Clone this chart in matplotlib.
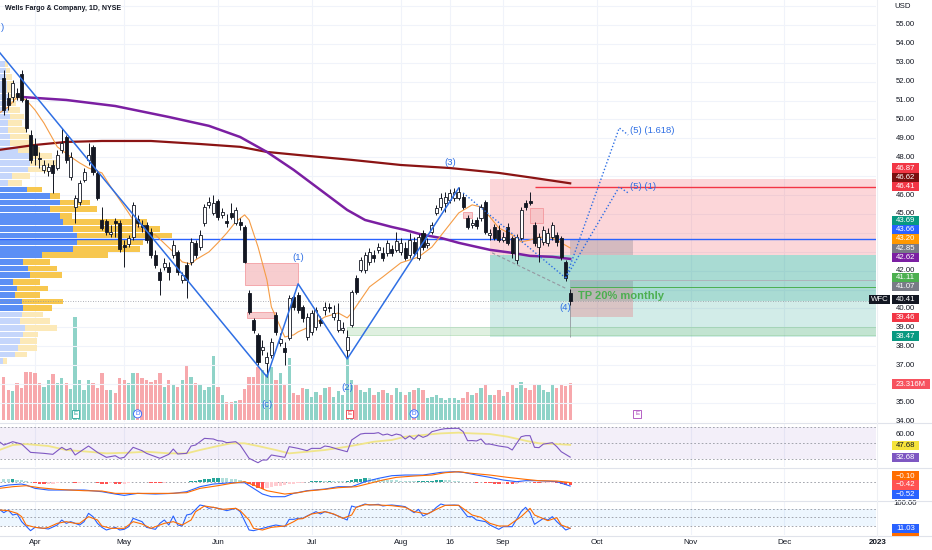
import numpy as np
import matplotlib
matplotlib.use("Agg")
import matplotlib.pyplot as plt
from matplotlib.patches import Rectangle
from matplotlib.transforms import blended_transform_factory as blend

plt.rcParams['font.family'] = ['Liberation Sans', 'DejaVu Sans']

W, H = 932, 550

#%% daily bars, bar 0 = 1 Apr 2022
first_bar = -7
opens = [52.20, 51.14, 51.19, 51.40, 52.41, 51.03, 49.18, 48.65, 47.96, 47.33,
         47.27, 47.59, 47.43, 48.39, 49.07, 46.96, 45.37, 45.64, 46.80, 47.86,
         48.55, 47.17, 44.68, 44.63, 43.94, 44.63, 44.52, 43.36, 43.41, 43.78,
         44.74, 44.42, 44.42, 44.05, 42.83, 41.93, 42.20, 42.20, 42.83, 42.99,
         41.51, 42.30, 42.46, 43.47, 43.26, 44.52, 45.48, 45.05, 45.69, 44.95,
         44.63, 45.05, 44.52, 44.58, 44.31, 40.82, 39.39, 38.60, 37.80, 37.12,
         37.54, 39.66, 38.17, 37.91, 38.44, 40.61, 40.71, 40.08, 38.49, 38.76,
         39.02, 39.39, 39.92, 40.08, 39.55, 38.86, 38.86, 37.80, 39.13, 41.61,
         42.04, 42.04, 42.46, 42.83, 43.10, 42.94, 42.94, 43.15, 43.10, 42.99,
         43.20, 42.83, 43.52, 42.67, 43.99, 43.36, 44.05, 45.05, 45.37, 45.58,
         45.74, 45.85, 45.85, 45.90, 44.79, 44.42, 44.68, 44.79, 45.64, 43.89,
         44.31, 44.15, 43.62, 44.31, 43.73, 42.57, 43.73, 45.58, 45.69, 44.42,
         43.26, 43.52, 43.47, 43.78, 43.89, 43.73, 42.46, 40.82]
closes = [50.50, 50.77, 51.93, 51.19, 51.03, 49.55, 47.86, 48.12, 47.91, 47.59,
          47.49, 47.17, 48.12, 48.76, 47.86, 48.02, 45.85, 46.64, 47.22, 48.12,
          47.22, 45.85, 44.26, 44.05, 44.05, 44.52, 43.15, 43.26, 43.73, 45.48,
          44.52, 44.31, 43.62, 42.83, 42.30, 41.51, 42.41, 41.93, 43.36, 41.93,
          41.77, 41.51, 43.52, 42.83, 43.89, 45.37, 45.64, 45.58, 44.84, 45.11,
          44.52, 44.84, 45.21, 44.42, 42.46, 39.81, 38.86, 37.17, 37.96, 37.44,
          38.23, 38.76, 38.39, 37.70, 40.56, 40.08, 39.92, 39.50, 39.55, 39.76,
          39.92, 39.23, 40.08, 40.03, 39.76, 39.39, 38.97, 38.49, 40.87, 40.87,
          42.57, 42.83, 42.99, 42.67, 43.26, 42.67, 43.47, 42.94, 43.57, 43.47,
          42.67, 43.62, 42.94, 43.78, 43.26, 43.47, 44.42, 45.32, 45.85, 45.90,
          46.11, 46.16, 46.16, 45.37, 44.31, 44.52, 44.37, 45.37, 44.05, 43.99,
          43.73, 43.62, 43.78, 43.47, 42.94, 43.78, 45.21, 45.37, 45.58, 43.47,
          43.78, 44.15, 43.99, 44.42, 43.52, 42.73, 41.61, 40.41]
highs = [52.62, 51.46, 52.09, 51.67, 52.62, 51.14, 49.44, 49.02, 48.28, 47.86,
         47.70, 47.86, 48.39, 49.55, 49.18, 48.28, 46.01, 46.80, 47.43, 48.76,
         48.65, 47.33, 45.37, 44.74, 44.42, 44.79, 44.68, 43.62, 43.89, 45.64,
         44.95, 44.68, 44.58, 44.26, 43.10, 42.14, 42.67, 42.46, 43.62, 43.10,
         41.93, 42.46, 43.73, 43.62, 44.15, 45.53, 45.90, 46.01, 45.79, 45.32,
         45.00, 45.58, 45.37, 44.79, 44.42, 40.98, 39.50, 38.70, 38.33, 37.70,
         38.44, 39.81, 38.70, 38.23, 40.71, 40.82, 40.87, 40.19, 39.76, 39.92,
         40.08, 39.60, 40.34, 40.29, 40.19, 40.29, 39.29, 38.86, 40.98, 41.77,
         42.73, 42.99, 43.20, 43.10, 43.47, 43.26, 43.62, 43.36, 44.05, 43.73,
         43.52, 43.99, 43.78, 43.94, 44.15, 43.73, 44.58, 45.48, 46.11, 46.16,
         46.32, 46.37, 46.43, 46.11, 44.95, 44.74, 44.84, 45.53, 45.74, 44.21,
         44.47, 44.42, 44.05, 44.52, 43.84, 43.94, 45.37, 45.74, 46.16, 44.58,
         43.99, 44.37, 44.26, 44.58, 44.05, 43.84, 42.57, 41.03]
lows = [50.24, 50.50, 50.93, 51.03, 50.93, 49.34, 47.70, 47.59, 47.43, 47.17,
        47.01, 46.11, 47.33, 48.23, 47.70, 46.80, 44.52, 45.48, 46.69, 47.59,
        47.06, 45.74, 44.15, 43.89, 43.78, 43.78, 42.99, 42.20, 43.26, 43.62,
        44.31, 44.05, 43.47, 42.67, 42.14, 40.71, 42.04, 41.51, 42.67, 41.77,
        41.35, 40.56, 42.30, 42.67, 43.10, 44.37, 45.32, 44.95, 44.68, 44.79,
        44.31, 44.74, 44.42, 44.15, 42.41, 39.71, 38.70, 37.01, 37.54, 36.38,
        37.38, 38.60, 38.02, 37.01, 38.33, 39.92, 39.76, 39.29, 38.33, 38.60,
        38.86, 39.07, 39.66, 39.81, 39.39, 38.76, 38.70, 37.38, 39.02, 40.77,
        41.93, 41.88, 42.30, 42.46, 42.94, 42.51, 42.78, 42.78, 42.99, 42.83,
        42.57, 42.67, 42.83, 42.57, 43.10, 43.20, 43.94, 44.95, 45.21, 45.11,
        45.58, 45.69, 45.74, 45.26, 44.21, 44.26, 44.21, 44.63, 43.94, 43.62,
        43.62, 43.52, 43.52, 43.36, 42.67, 42.36, 43.62, 45.21, 45.48, 43.31,
        42.46, 43.36, 43.31, 43.62, 43.31, 42.57, 41.46, 40.19]
volume_m = [27.1, 18.9, 18.3, 23.3, 20.2, 30.2, 30.2, 29.6, 23.3, 20.8,
            25.2, 29.0, 23.3, 26.5, 23.3, 19.5, 64.9, 25.2, 18.9, 25.2,
            23.3, 20.2, 29.6, 18.9, 18.9, 17.0, 26.5, 25.2, 23.3, 29.6,
            29.6, 26.5, 25.2, 23.9, 25.2, 29.6, 20.8, 25.2, 22.7, 20.8,
            25.2, 34.7, 27.1, 23.3, 22.1, 18.9, 20.8, 40.3, 20.8, 15.8,
            11.3, 11.3, 12.0, 12.6, 19.5, 27.1, 27.1, 33.4, 31.5, 29.0,
            33.4, 25.2, 29.6, 22.7, 39.1, 17.0, 15.8, 20.2, 19.5, 14.5,
            17.6, 15.8, 20.2, 20.8, 14.5, 18.3, 15.8, 39.7, 25.2, 22.1,
            18.9, 17.6, 20.2, 15.8, 17.6, 18.9, 17.0, 15.8, 20.2, 17.6,
            15.8, 17.6, 18.9, 20.2, 18.9, 13.9, 14.5, 15.8, 13.9, 12.6,
            13.9, 13.9, 12.6, 13.9, 17.6, 15.8, 17.0, 20.2, 22.1, 15.8,
            15.8, 18.9, 15.1, 17.6, 22.1, 20.2, 23.9, 20.2, 18.9, 22.1,
            22.1, 18.9, 17.6, 22.1, 20.2, 22.1, 21.4, 23.3]
macd_hist = [0.35, 0.30, 0.36, 0.25, 0.15, 0.05, -0.05, -0.15, -0.25, -0.28,
             -0.25, -0.22, -0.12, -0.05, -0.08, -0.05, -0.18, -0.12, -0.06, -0.03,
             -0.08, -0.15, -0.22, -0.25, -0.20, -0.22, -0.28, -0.25, -0.15, -0.05,
             -0.03, -0.04, -0.08, -0.12, -0.15, -0.18, -0.12, -0.06, -0.03, -0.04,
             -0.05, -0.03, 0.05, 0.12, 0.20, 0.30, 0.38, 0.45, 0.50, 0.48,
             0.42, 0.35, 0.28, 0.18, 0.05, -0.30, -0.55, -0.80, -0.85, -0.80,
             -0.65, -0.55, -0.48, -0.40, -0.30, -0.22, -0.15, -0.10, -0.05, 0.05,
             0.10, 0.12, 0.10, 0.12, 0.10, 0.06, 0.04, 0.05, 0.20, 0.30,
             0.38, 0.44, 0.42, 0.35, 0.30, 0.25, 0.22, 0.18, 0.15, 0.12,
             0.08, 0.05, 0.04, 0.06, 0.08, 0.10, 0.14, 0.18, 0.20, 0.18,
             0.15, 0.10, 0.06, 0.02, -0.05, -0.08, -0.10, -0.06, -0.12, -0.20,
             -0.25, -0.28, -0.28, -0.30, -0.32, -0.28, -0.15, -0.08, -0.05, -0.12,
             -0.15, -0.12, -0.10, -0.10, -0.15, -0.25, -0.35, -0.42]

# moving averages (bar, price)
ma_purple_x = [-3, 0, 7, 18, 30, 39, 46, 52, 58, 64, 70, 74, 80, 83, 87, 91, 95, 98, 102, 107, 111, 116, 120]
ma_purple = [51.19, 51.14, 51.03, 50.71, 50.13, 49.66, 49.07, 48.28, 47.33, 46.27, 45.21, 44.68,
             44.31, 44.15, 43.89, 43.73, 43.47, 43.31, 43.10, 42.94, 42.78, 42.73, 42.62]
ma_red_x = [-8, 0, 7, 15, 26, 37, 46, 52, 59, 71, 82, 93, 104, 112, 120]
ma_red = [48.39, 48.65, 48.81, 48.86, 48.86, 48.70, 48.55, 48.28, 48.12, 47.86, 47.59, 47.43, 47.17, 46.90, 46.62]
ema_x = [-8, -6, -4, -2, 0, 2, 5, 8, 10, 12, 15, 17, 19, 21, 23, 25, 27, 31, 33, 35, 36, 39, 41, 43, 45,
         47, 48, 50, 52, 53, 55, 56, 58, 59, 61, 65, 68, 70, 71, 73, 75, 78, 82, 86, 89, 92, 95, 98,
         100, 102, 104, 107, 109, 111, 113, 116, 118, 120]
ema = [50.34, 50.66, 51.19, 51.03, 50.50, 49.81, 48.55, 48.02, 47.70, 47.43, 47.17, 46.43, 45.74, 45.05,
       44.31, 43.99, 43.89, 42.99, 42.46, 42.35, 42.57, 42.99, 43.47, 43.99, 44.58, 44.95, 44.68, 43.26,
       41.51, 40.08, 39.02, 38.49, 38.60, 38.76, 38.97, 39.55, 39.76, 39.50, 39.76, 40.45, 41.14, 41.67,
       42.41, 42.72, 43.25, 44.15, 45.05, 45.48, 45.37, 44.84, 44.26, 43.89, 43.52, 43.62, 43.78, 43.73,
       43.47, 43.20]

# volume profile rows (price, up / down volume in M)
vp_price = [52.94, 52.59, 52.24, 51.89, 51.54, 51.19, 50.85, 50.50, 50.15, 49.80, 49.45, 49.10, 48.75,
            48.40, 48.05, 47.70, 47.35, 47.00, 46.65, 46.30, 45.95, 45.60, 45.25, 44.90, 44.56, 44.21,
            43.86, 43.51, 43.16, 42.81, 42.46, 42.11, 41.76, 41.41, 41.06, 40.71, 40.37, 40.02, 39.67,
            39.32, 38.97, 38.62, 38.27, 37.92, 37.57, 37.22]
vp_blue = [5, 6, 6, 7, 7, 8, 7, 8, 10, 8, 8, 10, 10, 18, 30, 30, 28, 12, 8,
           27, 50, 60, 50, 60, 63, 73, 77, 77, 73, 42, 23, 28, 30, 13, 17, 15, 22, 23,
           22, 20, 25, 23, 20, 18, 15, 3]
vp_yellow = [3, 4, 6, 7, 8, 10, 9, 12, 14, 14, 18, 20, 24, 22, 22, 30, 22, 18, 14,
             15, 10, 30, 47, 12, 84, 87, 95, 66, 67, 66, 27, 29, 32, 27, 31, 25, 41, 29,
             21, 30, 32, 15, 17, 19, 12, 4]
va_high, va_low = 46.5, 39.85

# RSI
rsi_x = [-8, -7, -5, -3, -1, 2, 4, 6, 7, 8, 9, 12, 14, 16, 18, 19, 20, 22, 24, 25, 28, 30, 31, 32, 34, 35,
         36, 38, 40, 41, 42, 43, 45, 46, 48, 50, 51, 52, 53, 56, 57, 59, 61, 62, 64, 65, 66, 68, 70, 71,
         73, 74, 76, 77, 78, 79, 80, 81, 82, 83, 84, 85, 86, 87, 88, 89, 91, 92, 94, 95, 96, 97, 98, 99,
         100, 101, 102, 104, 106, 107, 108, 109, 110, 111, 112, 113, 114, 115, 116, 117, 118, 119, 120]
rsi = [51.6, 47.5, 51.6, 48.7, 38.5, 37.3, 36.1, 44.7, 41.4, 43.4, 35.3, 46.3, 38.5, 32.4, 34.4, 31.2,
       32.4, 44.7, 40.6, 37.3, 31.2, 36.1, 42.6, 36.5, 37.3, 46.3, 47.5, 55.7, 54.9, 52.8, 52.4, 50.4,
       51.6, 47.5, 31.2, 25.8, 29.1, 29.1, 35.3, 32.4, 45.5, 43.4, 40.6, 43.4, 43.4, 46.3, 45.5, 42.2,
       39.3, 53.7, 61.0, 61.8, 61.8, 62.7, 59.8, 61.0, 59.0, 61.0, 59.8, 54.9, 58.6, 54.5, 59.8, 56.9,
       59.0, 63.9, 66.7, 67.6, 68.0, 68.0, 63.9, 52.8, 53.0, 52.5, 54.9, 48.7, 48.7, 46.3, 44.7, 41.4,
       49.6, 57.7, 59.0, 59.0, 44.7, 44.3, 48.7, 49.5, 50.4, 45.5, 39.3, 36.0, 32.68]
rsi_ma_x = [-8, -5, -2, 3, 7, 12, 16, 21, 25, 30, 34, 37, 41, 44, 47, 50, 54, 57, 61, 65, 70, 72, 76, 80,
            83, 87, 91, 95, 98, 102, 106, 110, 113, 117, 120]
rsi_ma = [41.4, 47.5, 48.7, 46.3, 41.4, 39.3, 37.3, 38.1, 39.3, 37.3, 37.3, 41.4, 46.3, 49.6, 49.6, 46.3,
          41.4, 37.3, 39.3, 41.4, 45.5, 47.5, 51.6, 53.7, 57.7, 59.8, 61.8, 62.7, 61.8, 61.0, 57.7, 52.8,
          49.6, 48.7, 47.68]

# MACD lines
macd_x = [-8, -6, -3, -2, 0, 3, 7, 11, 15, 18, 20, 23, 27, 31, 34, 37, 40, 44, 47, 49, 51, 53, 56, 58,
          61, 65, 68, 71, 74, 77, 80, 83, 87, 91, 94, 96, 99, 102, 105, 108, 110, 113, 117, 120]
macd = [-0.6, -0.4, -0.28, -0.4, -0.8, -1.0, -1.0, -1.0, -1.2, -1.48, -1.64, -1.4, -1.48, -1.4, -1.2,
        -0.6, -0.28, -0.12, -0.12, -0.8, -1.48, -1.8, -1.8, -1.4,
        -1.08, -0.88, -0.6, -0.6, 0.0, 0.4, 0.72, 0.8, 0.8, 1.12, 1.2, 1.12, 0.8, 0.52, 0.2, 0.0, 0.12,
        0.12, 0.0, -0.52]
signal_x = [-8, -5, -2, 1, 5, 11, 15, 18, 22, 26, 30, 34, 37, 41, 44, 47, 49, 52, 56, 59,
            61, 65, 68, 72, 75, 78, 81, 85, 89, 92, 95, 98, 102, 106, 110, 113, 117, 120]
signal = [-0.8, -0.6, -0.48, -0.72, -0.92, -1.08, -1.12, -1.4, -1.4, -1.4, -1.4, -1.32, -0.8, -0.48,
          -0.2, 0.0, -0.4, -1.08, -1.48, -1.32,
          -1.12, -0.92, -0.72, -0.6, -0.2, 0.2, 0.52, 0.68, 0.8, 1.08, 1.2, 1.0, 0.8, 0.52, 0.28, 0.12,
          0.08, -0.1]

# Stochastic
k_x = [-8, -7, -6, -5, -4, -3, -1, 0, 2, 3, 5, 6, 7, 8, 10, 11, 12, 13, 14, 15, 16, 18, 19, 20, 21, 22,
       24, 25, 27, 28, 29, 30, 31, 32, 33, 34, 35, 37, 38, 39, 40, 42, 43, 45, 46, 48, 49, 51, 53, 54,
       56, 57, 58, 59, 60, 61, 63, 64, 65, 66, 68, 70, 71, 72, 74, 75, 77, 78, 79, 80, 82, 83, 85, 86,
       87, 89, 90, 91, 92, 94, 95, 97, 98, 99, 101, 102, 104, 105, 107, 109, 110, 111, 112, 114, 115,
       116, 117, 118, 119, 120]
stoch_k = [78.8, 66.8, 76.4, 58.4, 62.0, 34.4, 2.0, 14.0, 10.4, 8.0, 22.4, 40.4, 28.4, 34.4, 22.4, 34.4,
           64.4, 52.4, 28.4, 14.0, 4.4, 14.0, 4.4, 6.8, 16.4, 46.4, 34.4, 14.0, 6.8, 28.4, 40.4, 22.4,
           54.8, 22.4, 18.8, 58.4, 62.0, 94.4, 90.8, 82.4, 86.0, 78.8, 74.0, 82.4, 70.4, 4.4, 2.0, 10.4,
           18.8, 22.4, 16.4, 42.8, 42.8, 46.4, 46.4, 54.8, 70.4, 62.0, 70.4, 66.8, 54.8, 40.4, 90.8,
           86.0, 98.0, 94.4, 96.8, 90.8, 93.2, 94.4, 90.8, 88.4, 66.8, 78.8, 54.8, 70.4, 86.0, 98.0,
           93.2, 94.4, 93.2, 52.4, 52.4, 40.4, 34.4, 22.4, 6.8, 16.4, 16.4, 70.4, 86.0, 66.8, 24.8,
           46.4, 40.4, 52.4, 34.4, 20.0, 4.4, 11.03]
d_x = [-8, -6, -4, -3, -2, 0, 2, 3, 5, 7, 9, 10, 12, 14, 15, 17, 20, 22, 24, 26, 29, 31, 33, 35, 36,
       38, 40, 42, 45, 46, 48, 49, 51, 53, 56, 58, 59, 60, 62, 65, 67, 69, 71, 72, 74, 77, 80, 83, 85,
       88, 90, 92, 95, 98, 100, 102, 104, 106, 109, 111, 112, 115, 117, 118, 120]
stoch_d = [76.4, 74.0, 64.4, 52.4, 22.4, 14.0, 10.4, 14.0, 28.4, 34.4, 28.4, 28.4, 52.4, 40.4, 18.8,
           10.4, 10.4, 34.4, 26.0, 10.4, 28.4, 34.4, 22.4, 40.4, 70.4, 90.8, 86.0, 78.8, 82.4, 74.0,
           40.4, 10.4, 4.4, 14.0, 18.8, 34.4, 44.0, 45.2, 62.0, 70.4, 62.0, 46.4, 58.4, 86.0, 95.6,
           94.4, 92.0, 86.0, 70.4, 62.0, 78.8, 93.2, 93.2, 58.4, 50.0, 28.4, 18.8, 18.8, 52.4, 82.4,
           58.4, 38.0, 48.8, 22.4, 10.4]

# Elliott wave count
wave_x = [-8, 52, 59, 70, 95]
wave_p = [53.56, 36.38, 41.30, 37.33, 46.37]
wave4_x = [96, 119]
wave4_p = [46.11, 41.61]
proj1_x = [119, 131, 133]
proj1_p = [41.61, 46.43, 46.11]
proj2_x = [119, 131, 133]
proj2_p = [41.61, 49.55, 49.18]

month_labels = ['Apr', 'May', 'Jun', 'Jul', 'Aug', '16', 'Sep', 'Oct', 'Nov', 'Dec', '2023']
month_bars = [0, 20, 41, 62, 82, 93, 105, 126, 147, 168, 189]
price_ticks = [34, 35, 37, 38, 39, 40, 42, 45, 46, 48, 49, 50, 51, 52, 53, 54, 55]

#%% layout
XL = (-7.85, 188.57)
fig = plt.figure(figsize=(W / 100, H / 100), dpi=100)
fig.patch.set_facecolor('white')

def panel(top, bottom):
    return [0, 1 - bottom / H, 876 / W, (bottom - top) / H]

ax_vol = fig.add_axes(panel(0, 422))
ax_vp = fig.add_axes(panel(0, 422))
ax = fig.add_axes(panel(0, 422))
ax_rsi = fig.add_axes(panel(423, 467))
ax_macd = fig.add_axes(panel(468, 500))
ax_st = fig.add_axes(panel(501, 535))
for a in [ax_vol, ax_vp, ax, ax_rsi, ax_macd, ax_st]:
    a.set_facecolor('none')
    a.set_xticks([])
    a.set_yticks([])
    for s in a.spines.values():
        s.set_visible(False)
for a in [ax_vol, ax, ax_rsi, ax_macd, ax_st]:
    a.set_xlim(*XL)

ax.set_ylim(33.99, 56.32)
ax_vp.set_ylim(33.99, 56.32)
ax_vp.set_xlim(0, 876)
ax_vol.set_ylim(-1.26, 264.6)

bars = np.arange(first_bar, first_bar + len(opens))
o = np.array(opens); c = np.array(closes)
up = c >= o

# grid
gridc = '#f0f3fa'
for b in month_bars[:-1]:
    for a in [ax_vol, ax_rsi, ax_macd, ax_st]:
        a.axvline(b, color=gridc, lw=0.8, zorder=0)
for p in range(34, 57):
    ax_vp.axhline(p, color=gridc, lw=0.8, zorder=0)

# volume
ax_vol.bar(bars, volume_m, width=0.75, color=np.where(up, '#8fd3c8', '#f7a8ac'), zorder=2)

# volume profile
vp_in = (np.array(vp_price) < va_high) & (np.array(vp_price) > va_low)
ax_vp.barh(vp_price, vp_blue, height=0.30, color=np.where(vp_in, '#5b8ff5', '#c5d6fb'), zorder=2)
ax_vp.barh(vp_price, vp_yellow, left=vp_blue, height=0.30,
           color=np.where(vp_in, '#f7c74f', '#fce9b8'), zorder=2)

# position tools
xr = XL[1]
ax.add_patch(Rectangle((102, 42.85), xr - 102, 46.87 - 42.85, fc='#f23645', alpha=0.2, ec='none', zorder=1))
ax.add_patch(Rectangle((102, 38.47), xr - 102, 42.85 - 38.47, fc='#089981', alpha=0.18, ec='none', zorder=1))
ax.add_patch(Rectangle((102, 40.41), xr - 102, 42.85 - 40.41, fc='#089981', alpha=0.2, ec='none', zorder=1))
ax.add_patch(Rectangle((120, 42.85), 14, 43.66 - 42.85, fc='#787b86', alpha=0.3, ec='none', zorder=1))
ax.add_patch(Rectangle((120, 41.07), 14, 41.51 - 41.07, fc='#787b86', alpha=0.3, ec='none', zorder=1))
ax.add_patch(Rectangle((120, 39.53), 14, 41.07 - 39.53, fc='#f23645', alpha=0.22, ec='none', zorder=1))
ax.hlines(41.11, 120, xr, color='#4caf50', lw=0.7, zorder=2)
ax.hlines(41.51, 120, xr, color='#b0b3bb', lw=0.7, zorder=2)
ax.vlines(120, 38.47, 40.3, color='#9598a1', lw=0.6, zorder=2)

# support band
ax.add_patch(Rectangle((70, 38.60), xr - 70, 39.02 - 38.60, fc='#a5d6a7', alpha=0.35,
                       ec='#66bb6a', lw=0.6, zorder=2))

# order blocks
for x0, x1, p0, p1 in [(47, 59, 41.24, 42.41), (47.5, 54, 39.50, 39.81),
                       (96, 98, 44.79, 45.11), (111, 114, 44.52, 45.32)]:
    ax.add_patch(Rectangle((x0, p0), x1 - x0, p1 - p0, fc='#f6c1c4', alpha=0.8,
                           ec='#f28b91', lw=0.6, zorder=2))

# horizontal lines
ax.axhline(43.66, color='#2962ff', lw=1.0, zorder=3)
ax.hlines(46.41, 112, xr, color='#f23645', lw=1.0, zorder=3)
ax.axhline(40.41, color='#9598a1', lw=0.6, ls=(0, (1, 2)), zorder=3)

# moving averages
ax.plot(ma_red_x, ma_red, color='#8b1414', lw=1.6, zorder=4)
ax.plot(ma_purple_x, ma_purple, color='#7b1fa2', lw=1.8, zorder=4)
ax.plot(ema_x, ema, color='#f59c45', lw=0.8, zorder=4)

# candles
ax.vlines(bars, lows, highs, color='#131722', lw=0.7, zorder=5)
body_lo = np.minimum(o, c)
body_h = np.maximum(np.abs(c - o), 0.04)
ax.bar(bars[up], body_h[up], bottom=body_lo[up], width=0.68, color='white',
       edgecolor='#131722', linewidth=0.6, zorder=6)
ax.bar(bars[~up], body_h[~up], bottom=body_lo[~up], width=0.68, color='#131722',
       edgecolor='#131722', linewidth=0.6, zorder=6)

# wave count
wc = '#2f6fe4'
ax.plot(wave_x, wave_p, color=wc, lw=1.1, zorder=7)
ax.plot(wave4_x, wave4_p, color=wc, lw=1.0, ls=(0, (1, 1.5)), zorder=7)
ax.plot(proj1_x, proj1_p, color=wc, lw=1.0, ls=(0, (1, 1.5)), zorder=7)
ax.plot(proj2_x, proj2_p, color=wc, lw=1.0, ls=(0, (1, 1.5)), zorder=7)
ax.plot([102.5, 119.3], [42.94, 41.03], color='#9598a1', lw=0.8, ls=(0, (3, 2)), zorder=7)
for x, p, s, ha in [(52, 34.89, '(c)', 'center'), (59, 42.67, '(1)', 'center'),
                    (70, 35.79, '(2)', 'center'), (93, 47.70, '(3)', 'center'),
                    (119, 40.03, '(4)', 'center'), (133.5, 49.44, '(5) (1.618)', 'left'),
                    (133.5, 46.43, '(5) (1)', 'left'), (-7.7, 54.89, ')', 'left')]:
    ax.text(x, p, s, color=wc, fontsize=6.8, ha=ha, va='center', zorder=8)
ax.text(121.7, 40.66, 'TP 20% monthly', color='#4caf50', fontsize=8, fontweight='bold',
        ha='left', va='center', zorder=8)

# event markers
for x, s, col, box in [(9, 'E', '#26a69a', 'square'), (23, 'D', '#2962ff', 'circle'),
                       (70.5, 'E', '#f23645', 'square'), (85, 'D', '#2962ff', 'circle'),
                       (135, 'E', '#ab47bc', 'square')]:
    ax.text(x, 34.42, s, color=col, fontsize=4.5, ha='center', va='center', zorder=8,
            bbox=dict(boxstyle=box + ',pad=0.25', fc='white', ec=col, lw=0.6))

# RSI
ax_rsi.set_ylim(20.55, 74.54)
ax_rsi.axhspan(30, 70, color='#7e57c2', alpha=0.09, lw=0, zorder=0)
for lv in (70, 50, 30):
    ax_rsi.axhline(lv, color='#9598a1', lw=0.6, ls=(0, (2, 2.5)), zorder=1)
ax_rsi.plot(rsi_ma_x, rsi_ma, color='#f0e58a', lw=1.3, zorder=2)
ax_rsi.plot(rsi_x, rsi, color='#7e57c2', lw=0.8, zorder=3)

# MACD
ax_macd.set_ylim(-2.196, 1.644)
ax_macd.axhline(0, color='#9598a1', lw=0.6, ls=(0, (2, 2.5)), zorder=1)
h = np.array(macd_hist)
prev = np.concatenate([[h[0]], h[:-1]])
hcol = np.where(h >= 0, np.where(h > prev, '#26a69a', '#b2dfdb'),
                np.where(h < prev, '#ff5252', '#ffcdd2'))
ax_macd.bar(bars, h, width=0.75, color=hcol, zorder=2)
ax_macd.plot(macd_x, macd, color='#2962ff', lw=0.8, zorder=3)
ax_macd.plot(signal_x, signal, color='#ff6d00', lw=0.8, zorder=3)

# Stochastic
ax_st.set_ylim(-13.6, 108.8)
ax_st.axhspan(20, 80, color='#2196f3', alpha=0.08, lw=0, zorder=0)
for lv in (80, 50, 20):
    ax_st.axhline(lv, color='#9598a1', lw=0.6, ls=(0, (2, 2.5)), zorder=1)
ax_st.plot(k_x, stoch_k, color='#2962ff', lw=0.8, zorder=3)
ax_st.plot(d_x, stoch_d, color='#ff6d00', lw=0.8, zorder=3)

# panel separators
for yp in (422.5, 467.5, 500.5, 535.5):
    fig.add_artist(plt.Line2D([0, 1], [1 - yp / H, 1 - yp / H], color='#e0e3eb', lw=0.8))
fig.add_artist(plt.Line2D([876.5 / W, 876.5 / W], [1 - 535.5 / H, 1], color='#eef0f4', lw=0.8))

# axis text
txt = '#131722'
ax_tx = 905.5 / 876
for p in price_ticks:
    ax.text(ax_tx, p, f'{p:.2f}', transform=blend(ax.transAxes, ax.transData), fontsize=5.6,
            color=txt, ha='center', va='center', clip_on=False)
ax_rsi.text(ax_tx, 60, '60.00', transform=blend(ax_rsi.transAxes, ax_rsi.transData),
            fontsize=5.6, color=txt, ha='center', va='center', clip_on=False)
ax_st.text(ax_tx, 100, '100.00', transform=blend(ax_st.transAxes, ax_st.transData),
           fontsize=5.6, color=txt, ha='center', va='center', clip_on=False)
fig.text(903 / W, 1 - 7 / H, 'USD', fontsize=5.6, color=txt, ha='center', va='center')

for b, s in zip(month_bars, month_labels):
    ax_st.text(b, -0.226, s, transform=blend(ax_st.transData, ax_st.transAxes), fontsize=5.8,
               color=txt, ha='center', va='center', clip_on=False,
               fontweight='bold' if s == '2023' else 'normal')

fig.text(5 / W, 1 - 9 / H, 'Wells Fargo & Company, 1D, NYSE', fontsize=5.0, color=txt,
         fontweight='bold', ha='left', va='center')

def tag(ypx, text, bg, fg='white', x0=892, w=27, hh=9.3):
    fig.add_artist(Rectangle((x0 / W, 1 - (ypx + hh / 2) / H), w / W, hh / H,
                             transform=fig.transFigure, fc=bg, ec='none', zorder=5))
    if text:
        fig.text((x0 + w / 2) / W, 1 - ypx / H, text, fontsize=5.6, color=fg,
                 ha='center', va='center', zorder=6)

price_tags = [('46.87', 168.0, '#f23645', 'white'), ('46.62', 177.3, '#7a1010', 'white'),
              ('46.41', 186.7, '#f23645', 'white'), ('43.69', 220.7, '#089981', 'white'),
              ('43.66', 229.7, '#2962ff', 'white'), ('43.20', 239.0, '#ff9800', 'white'),
              ('42.85', 248.3, '#787b86', 'white'), ('42.62', 257.7, '#7b1fa2', 'white'),
              ('41.11', 277.7, '#4caf50', 'white'), ('41.07', 286.7, '#787b86', 'white'),
              ('40.41', 299.3, '#131722', 'white'), ('39.46', 317.3, '#f23645', 'white'),
              ('38.47', 336.0, '#089981', 'white'), ('47.68', 445.7, '#f5e33b', '#131722'),
              ('32.68', 457.7, '#7e57c2', 'white'), ('\u22120.10', 476.0, '#ff6d00', 'white'),
              ('\u22120.42', 485.0, '#ff5252', 'white'), ('\u22120.52', 494.3, '#2962ff', 'white')]
for s, yp, bg, fg in price_tags:
    tag(yp, s, bg, fg)
tag(531.5, '', '#ff6d00')
tag(528.3, '11.03', '#2962ff')
tag(384.0, '23.316M', '#f7525f', w=38)
tag(299.3, 'WFC', '#131722', x0=869, w=21)

fig.savefig('out.png', dpi=100)
